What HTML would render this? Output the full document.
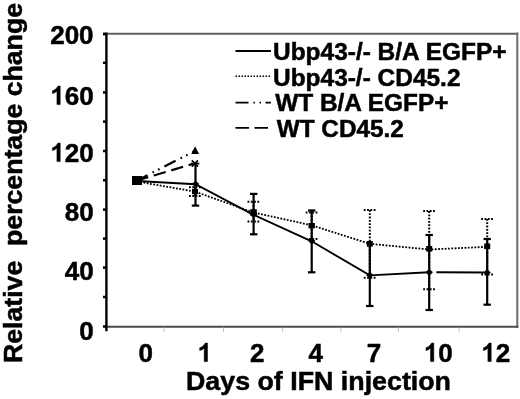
<!DOCTYPE html>
<html><head><meta charset="utf-8">
<style>
html,body{margin:0;padding:0;background:#fff;}
body{width:520px;height:399px;overflow:hidden;}
svg{display:block;}
text{font-family:"Liberation Sans",sans-serif;font-weight:bold;fill:#000;stroke:#000;stroke-width:0.5;}
svg{will-change:transform;}
</style></head><body>
<svg width="520" height="399" viewBox="0 0 520 399">
<!-- plot frame -->
<line x1="106" y1="33.8" x2="518.3" y2="33.8" stroke="#606060" stroke-width="2"/>
<line x1="517.3" y1="32.6" x2="517.3" y2="327.8" stroke="#6c6c6c" stroke-width="2"/>
<line x1="106" y1="326.8" x2="518.3" y2="326.8" stroke="#4a4a4a" stroke-width="2"/>
<!-- y axis -->
<line x1="106.4" y1="32.5" x2="106.4" y2="331.2" stroke="#000" stroke-width="2.4"/>
<g stroke="#000" stroke-width="2.5">
<line x1="103" y1="34" x2="106" y2="34" stroke-width="2.8"/>
<line x1="103" y1="62.8" x2="106" y2="62.8"/>
<line x1="103" y1="92.4" x2="106" y2="92.4"/>
<line x1="103" y1="121.6" x2="106" y2="121.6"/>
<line x1="103" y1="151" x2="106" y2="151"/>
<line x1="103" y1="180.3" x2="106" y2="180.3"/>
<line x1="103" y1="209.6" x2="106" y2="209.6"/>
<line x1="103" y1="238.6" x2="106" y2="238.6"/>
<line x1="103" y1="267.6" x2="106" y2="267.6"/>
<line x1="103" y1="297" x2="106" y2="297"/>
<line x1="103" y1="326.5" x2="106" y2="326.5"/>
</g>
<!-- x ticks (faint) -->
<g stroke="#c4c4c4" stroke-width="1">
<line x1="164" y1="327.5" x2="164" y2="332"/>
<line x1="223.5" y1="327.5" x2="223.5" y2="332"/>
<line x1="282.6" y1="327.5" x2="282.6" y2="332"/>
<line x1="340.9" y1="327.5" x2="340.9" y2="332"/>
<line x1="398.4" y1="327.5" x2="398.4" y2="332"/>
<line x1="459" y1="327.5" x2="459" y2="332"/>
</g>
<!-- y tick labels -->
<defs>
<path id="one" d="M10.0,0 L10.0,-18.5 L7.7,-18.5 C7.2,-17.2 6.1,-16.0 4.9,-15.2 C4.0,-14.6 3.1,-14.1 2.2,-13.8 L2.2,-11.0 C3.8,-11.5 5.5,-12.4 6.7,-13.4 L6.7,0 Z"/>
</defs>
<g font-size="26" text-anchor="end">
<text x="93.6" y="44.2">200</text>
<text x="93.6" y="104.6">60</text>
<text x="93.6" y="161.6">20</text>
<text x="93.6" y="221.2">80</text>
<text x="93.6" y="279.6">40</text>
<text x="93.6" y="340.2">0</text>
</g>
<g fill="#000" stroke="#000" stroke-width="0.5">
<use href="#one" x="50.22" y="104.6"/>
<use href="#one" x="50.22" y="161.6"/>
<use href="#one" x="197.5" y="361.6"/>
<use href="#one" x="423.8" y="361.6"/>
<use href="#one" x="481.2" y="361.6"/>
</g>
<!-- x tick labels -->
<g font-size="26">
<text x="138.6" y="361.6">0</text>
<text x="249.9" y="361.6">2</text>
<text x="308.5" y="361.6">4</text>
<text x="366.7" y="361.6">7</text>
<text x="438.26" y="361.6">0</text>
<text x="495.66" y="361.6">2</text>
</g>
<!-- axis titles -->
<text x="186" y="390.4" font-size="26" textLength="265" lengthAdjust="spacingAndGlyphs">Days of IFN injection</text>
<text transform="translate(21.8,363) rotate(-90)" x="0" y="0" font-size="26" textLength="360" lengthAdjust="spacingAndGlyphs" xml:space="preserve">Relative  percentage change</text>

<!-- legend -->
<g stroke="#000" stroke-width="1.8" fill="none">
<line x1="235.5" y1="51" x2="271" y2="51"/>
<line x1="235.5" y1="76.3" x2="271" y2="76.3" stroke-dasharray="1.5 1.5" stroke-width="1.5"/>
<line x1="235.5" y1="102.7" x2="271" y2="102.7" stroke-dasharray="13 5 1.5 4.5 1.5 4.5"/>
<line x1="235.5" y1="127.8" x2="271" y2="127.8" stroke-dasharray="13.5 5.5"/>
</g>
<g font-size="24">
<text x="273" y="60.1" textLength="233.5" lengthAdjust="spacingAndGlyphs">Ubp43-/- B/A EGFP+</text>
<text x="273" y="85.6" textLength="187.5" lengthAdjust="spacingAndGlyphs">Ubp43-/- CD45.2</text>
<text x="275.2" y="111" textLength="173.3" lengthAdjust="spacingAndGlyphs">WT B/A EGFP+</text>
<text x="276.8" y="136.6" textLength="127" lengthAdjust="spacingAndGlyphs">WT CD45.2</text>
</g>

<!-- WT lines -->
<g fill="none" stroke="#000" stroke-width="2.2">
<polyline points="137,180.5 195.2,150.8" stroke-dasharray="12.5 5.6 1.6 4.7 1.6 5.5" stroke-dashoffset="0.7"/>
<polyline points="137,180.5 194.3,163.5" stroke-dasharray="12.4 5.8" stroke-dashoffset="0.7"/>
</g>
<!-- dotted series -->
<polyline fill="none" stroke="#000" stroke-width="1.8" stroke-dasharray="1.8 1.5" points="137,181.5 195,191.6 253.5,212.5 311.7,225.3 369.8,243.8 429.2,249.5 487.2,246.8"/>
<!-- solid series -->
<g fill="none" stroke="#000" stroke-width="1.9">
<polyline points="137,181 195.5,184.2 253.5,214.8 311.7,241.3 369.8,275.4 429.2,272.3 432.2,272.2"/>
<polyline points="436.3,272.2 487.2,272.5"/>
</g>
<!-- dotted error bars -->
<g fill="none" stroke="#000" stroke-width="2" stroke-dasharray="1.8 1.5">
<line x1="195" y1="187.3" x2="195" y2="195.9"/>
<line x1="189" y1="187.3" x2="201" y2="187.3"/>
<line x1="189" y1="195.9" x2="201" y2="195.9"/>
<line x1="253.5" y1="201.7" x2="253.5" y2="221.6"/>
<line x1="247.5" y1="201.7" x2="259.5" y2="201.7"/>
<line x1="247.5" y1="221.6" x2="259.5" y2="221.6"/>
<line x1="311.7" y1="212.5" x2="311.7" y2="239"/>
<line x1="305.7" y1="212.5" x2="317.7" y2="212.5"/>
<line x1="305.7" y1="239" x2="317.7" y2="239"/>
<line x1="369.8" y1="210" x2="369.8" y2="277.7"/>
<line x1="363.8" y1="210" x2="375.8" y2="210"/>
<line x1="363.8" y1="277.7" x2="375.8" y2="277.7"/>
<line x1="429.2" y1="211.1" x2="429.2" y2="289.3"/>
<line x1="423.2" y1="211.1" x2="435.2" y2="211.1"/>
<line x1="423.2" y1="289.3" x2="435.2" y2="289.3"/>
<line x1="487.2" y1="219" x2="487.2" y2="274.6"/>
<line x1="481.2" y1="219" x2="493.2" y2="219"/>
<line x1="481.2" y1="274.6" x2="493.2" y2="274.6"/>
</g>
<!-- solid error bars -->
<g fill="none" stroke="#000" stroke-width="2.2">
<line x1="195.5" y1="163" x2="195.5" y2="205.6"/>
<line x1="191.8" y1="205.6" x2="199.2" y2="205.6"/>
<line x1="253.6" y1="193.9" x2="253.6" y2="234.3"/>
<line x1="250" y1="193.9" x2="257.4" y2="193.9"/>
<line x1="250" y1="234.3" x2="257.4" y2="234.3"/>
<line x1="311.7" y1="210.5" x2="311.7" y2="272.3"/>
<line x1="308" y1="210.5" x2="315.4" y2="210.5"/>
<line x1="308" y1="272.3" x2="315.4" y2="272.3"/>
<line x1="369.8" y1="244.3" x2="369.8" y2="306"/>
<line x1="366.1" y1="306" x2="373.5" y2="306"/>
<line x1="429.2" y1="235" x2="429.2" y2="310"/>
<line x1="425.5" y1="235" x2="432.9" y2="235"/>
<line x1="425.5" y1="310" x2="432.9" y2="310"/>
<line x1="487.2" y1="239" x2="487.2" y2="304.7"/>
<line x1="483.5" y1="239" x2="490.9" y2="239"/>
<line x1="483.5" y1="304.7" x2="490.9" y2="304.7"/>
</g>
<!-- markers -->
<g fill="#000">
<rect x="132" y="176" width="10" height="9"/>
<!-- squares (dotted) -->
<rect x="192" y="189" width="6" height="5.2"/>
<rect x="250.2" y="209.2" width="6.6" height="6.4"/>
<rect x="308.5" y="223" width="6.4" height="5.4"/>
<rect x="366.8" y="241" width="6" height="5.6"/>
<rect x="426.2" y="246" width="6" height="5.6"/>
<rect x="484.2" y="243.5" width="6" height="5.6"/>
<!-- diamonds (solid) -->
<path d="M195.6,180.4 L199.2,184 L195.6,187.6 L192,184 Z"/>
<path d="M253.5,210.4 L257.4,214.3 L253.5,218.2 L249.6,214.3 Z"/>
<path d="M311.7,237.2 L315.3,240.8 L311.7,244.4 L308.1,240.8 Z"/>
<path d="M369.8,271.6 L373.4,275.2 L369.8,278.8 L366.2,275.2 Z"/>
<path d="M429.2,268.7 L432.8,272.3 L429.2,275.9 L425.6,272.3 Z"/>
<path d="M487.2,268.9 L490.8,272.5 L487.2,276.1 L483.6,272.5 Z"/>
<!-- triangle -->
<path d="M195.1,146.2 L199,153.9 L191.3,153.9 Z"/>
</g>
<!-- star -->
<g stroke="#000" stroke-width="1.7" fill="none">
<line x1="191.8" y1="160.4" x2="198" y2="166.6"/>
<line x1="198" y1="160.4" x2="191.8" y2="166.6"/>
<line x1="191" y1="163.6" x2="199.4" y2="163.6"/>
</g>
</svg>
</body></html>
